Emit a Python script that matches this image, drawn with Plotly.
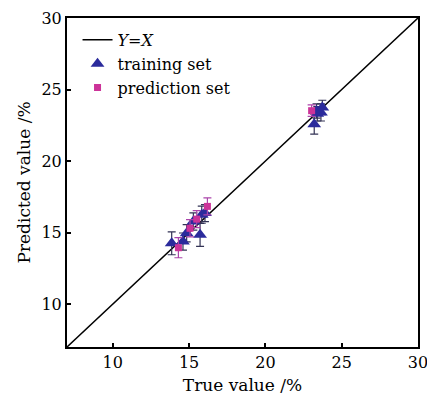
import plotly.graph_objects as go

# training set
train_x = [13.86, 14.6, 14.84, 15.28, 15.72, 15.83, 16.04, 23.2, 23.35, 23.4, 23.64, 23.73]
train_y = [14.25, 14.37, 14.95, 15.77, 14.84, 16.25, 16.36, 22.58, 23.5, 23.3, 23.4, 23.75]
train_err = [0.8, 0.6, 0.6, 0.6, 0.8, 0.6, 0.6, 0.7, 0.5, 0.5, 0.6, 0.5]

# prediction set
pred_x = [14.3, 15.06, 15.5, 16.2, 23.03]
pred_y = [13.94, 15.3, 15.94, 16.83, 23.52]
pred_err = [0.7, 0.6, 0.6, 0.6, 0.4]

line_xy = [7, 30]

font = "DejaVu Serif"

fig = go.Figure()
fig.add_trace(go.Scatter(x=line_xy, y=line_xy, mode="lines", name="<i>Y</i>=<i>X</i>",
                         line=dict(color="black", width=1.5)))
fig.add_trace(go.Scatter(x=train_x, y=train_y, mode="markers", name="training set",
                         marker=dict(symbol="triangle-up", size=12, color="#2b2b9c"),
                         error_y=dict(type="data", array=train_err, color="#333355",
                                      thickness=1.2, width=4)))
fig.add_trace(go.Scatter(x=pred_x, y=pred_y, mode="markers", name="prediction set",
                         marker=dict(symbol="square", size=7, color="#cc3399"),
                         error_y=dict(type="data", array=pred_err, color="#aa44aa",
                                      thickness=1.2, width=4)))

axis_common = dict(showline=True, linecolor="black", linewidth=2, mirror=True,
                   ticks="inside", ticklen=4, tickwidth=2, tickcolor="black",
                   showgrid=False, zeroline=False, automargin=False,
                   ticklabeloverflow="allow",
                   tickfont=dict(family=font, size=16, color="black"))

fig.update_layout(
    width=427, height=402,
    margin=dict(l=67, r=9, t=18, b=55),
    plot_bgcolor="white", paper_bgcolor="white",
    showlegend=True,
    legend=dict(x=0.03, y=0.985, xanchor="left", yanchor="top",
                bgcolor="rgba(0,0,0,0)", font=dict(family=font, size=16, color="black"),
                tracegroupgap=0, itemwidth=30),
    xaxis=dict(range=[7, 30], tickvals=[10, 15, 20, 25, 30],
               title=dict(text="True value /%", font=dict(family=font, size=17, color="black"),
                          standoff=8),
               **axis_common),
    yaxis=dict(range=[7, 30], tickvals=[10, 15, 20, 25, 30],
               title=dict(text="Predicted value /%", font=dict(family=font, size=17, color="black"),
                          standoff=6),
               **axis_common),
)

fig.write_html("out.html")
